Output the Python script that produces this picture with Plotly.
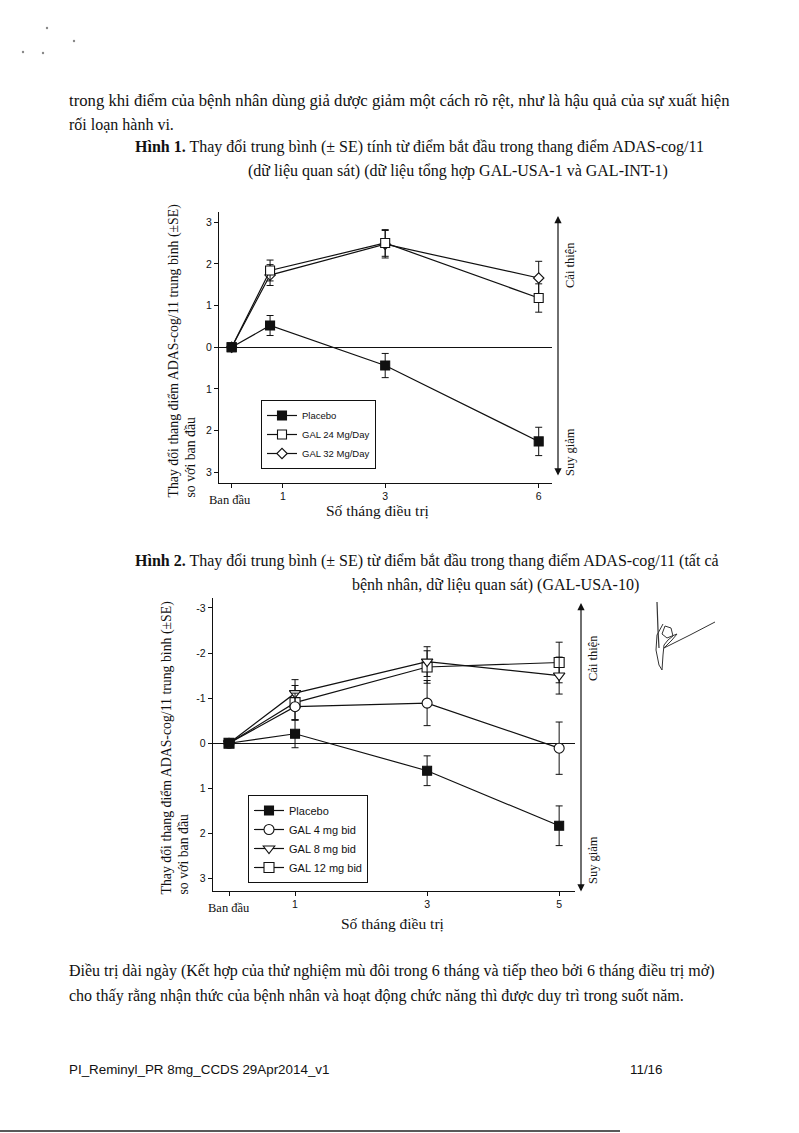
import plotly.graph_objects as go

W, H = 799, 1133

# ---------------- Data: Figure 1 ----------------
c1_months = [0, 0.75, 3, 6]
c1_placebo = [0, 0.52, -0.44, -2.26]
c1_placebo_se = [0, 0.24, 0.29, 0.34]
c1_gal24 = [0, 1.84, 2.50, 1.18]
c1_gal24_se = [0, 0.25, 0.32, 0.34]
c1_gal32 = [0, 1.73, 2.47, 1.66]
c1_gal32_se = [0, 0.25, 0.33, 0.40]
c1_xtickvals = [0, 1, 3, 6]
c1_xticktext = ["", "1", "3", "6"]
c1_ytickvals = [-3, -2, -1, 0, 1, 2, 3]
c1_yticktext = ["3", "2", "1", "0", "1", "2", "3"]
c1_names = ["Placebo", "GAL 24 Mg/Day", "GAL 32 Mg/Day"]

# ---------------- Data: Figure 2 ----------------
c2_months = [0, 1, 3, 5]
c2_placebo = [0, -0.21, 0.61, 1.83]
c2_placebo_se = [0, 0.31, 0.33, 0.44]
c2_gal4 = [0, -0.81, -0.89, 0.11]
c2_gal4_se = [0, 0.30, 0.50, 0.58]
c2_gal8 = [0, -1.11, -1.81, -1.50]
c2_gal8_se = [0, 0.30, 0.33, 0.41]
c2_gal12 = [0, -0.90, -1.69, -1.79]
c2_gal12_se = [0, 0.38, 0.36, 0.45]
c2_xtickvals = [0, 1, 3, 5]
c2_xticktext = ["", "1", "3", "5"]
c2_ytickvals = [-3, -2, -1, 0, 1, 2, 3]
c2_yticktext = ["-3", "-2", "-1", "0", "1", "2", "3"]
c2_names = ["Placebo", "GAL 4 mg bid", "GAL 8 mg bid", "GAL 12 mg bid"]

SERIF = "Liberation Serif, Times New Roman, serif"
SANS = "Liberation Sans, Arial, sans-serif"
NARROW = "Liberation Sans Narrow, Arial Narrow, Liberation Sans, Arial, sans-serif"
INK = "#111111"


def P(x, y):
    return x / W, 1 - y / H


fig = go.Figure()


def add_series(x, y, se, name, symbol, size, fill, xa, ya, legend):
    fig.add_trace(go.Scatter(
        x=x, y=y, name=name, mode="lines+markers",
        xaxis=xa, yaxis=ya, legend=legend,
        line=dict(color=INK, width=1.2),
        marker=dict(symbol=symbol, size=size, color=fill,
                    line=dict(color=INK, width=1.1)),
        error_y=dict(type="data", array=se, visible=True,
                     color=INK, thickness=1, width=3.5),
        showlegend=True,
    ))


# Figure 1 traces
add_series(c1_months, c1_gal32, c1_gal32_se, c1_names[2], "diamond", 8, "white", "x", "y", "legend")
add_series(c1_months, c1_gal24, c1_gal24_se, c1_names[1], "square", 9, "white", "x", "y", "legend")
add_series(c1_months, c1_placebo, c1_placebo_se, c1_names[0], "square", 9, INK, "x", "y", "legend")

# Figure 2 traces
add_series(c2_months, c2_gal12, c2_gal12_se, c2_names[3], "square", 10, "white", "x2", "y2", "legend2")
add_series(c2_months, c2_gal8, c2_gal8_se, c2_names[2], "triangle-down", 10, "white", "x2", "y2", "legend2")
add_series(c2_months, c2_gal4, c2_gal4_se, c2_names[1], "circle", 10, "white", "x2", "y2", "legend2")
add_series(c2_months, c2_placebo, c2_placebo_se, c2_names[0], "square", 9, INK, "x2", "y2", "legend2")

axis_common = dict(
    showline=True, linecolor=INK, linewidth=1, mirror=False,
    ticks="outside", ticklen=4, tickwidth=1, tickcolor=INK,
    showgrid=False, tickfont=dict(family=SANS, size=10.5, color=INK),
    fixedrange=True,
)

fig.update_layout(
    width=W, height=H,
    margin=dict(l=0, r=0, t=0, b=0),
    paper_bgcolor="white", plot_bgcolor="white",
    xaxis=dict(domain=[219 / W, 552 / W], range=[-0.248, 6.26], anchor="y",
               tickvals=c1_xtickvals, ticktext=c1_xticktext, zeroline=False,
               **axis_common),
    yaxis=dict(domain=[1 - 482.7 / H, 1 - 211.7 / H], range=[-3.25, 3.25], anchor="x",
               tickvals=c1_ytickvals, ticktext=c1_yticktext,
               zeroline=True, zerolinecolor=INK, zerolinewidth=1, **axis_common),
    xaxis2=dict(domain=[212.7 / W, 575 / W], range=[-0.247, 5.24], anchor="y2",
                tickvals=c2_xtickvals, ticktext=c2_xticktext, zeroline=False,
                **axis_common),
    yaxis2=dict(domain=[1 - 890.7 / H, 1 - 598 / H], range=[3.27, -3.22], anchor="x2",
                tickvals=c2_ytickvals, ticktext=c2_yticktext,
                zeroline=True, zerolinecolor=INK, zerolinewidth=1, **axis_common),
    legend=dict(x=261 / W, y=1 - 400 / H, xanchor="left", yanchor="top",
                bordercolor=INK, borderwidth=1, bgcolor="white",
                font=dict(family=NARROW, size=9.5, color=INK),
                traceorder="reversed", itemwidth=30, tracegroupgap=0),
    legend2=dict(x=248 / W, y=1 - 795 / H, xanchor="left", yanchor="top",
                 bordercolor=INK, borderwidth=1, bgcolor="white",
                 font=dict(family=SANS, size=11, color=INK),
                 traceorder="reversed", itemwidth=30, tracegroupgap=0),
    showlegend=True,
)

ann = []


def text(x, y, s, size=16, family=SERIF, xanchor="left", yanchor="middle", **kw):
    px, py = P(x, y)
    ann.append(dict(x=px, y=py, xref="paper", yref="paper", text=s, showarrow=False,
                    xanchor=xanchor, yanchor=yanchor,
                    font=dict(family=family, size=size, color=INK), **kw))


# Body text
text(67, 101, "trong khi điểm của bệnh nhân dùng giả dược giảm một cách rõ rệt, như là hậu quả của sự xuất hiện", size=16.7)
text(67, 124, "rối loạn hành vi.")
text(133, 147, "<b>Hình 1.</b> Thay đổi trung bình (± SE) tính từ điểm bắt đầu trong thang điểm ADAS-cog/11")
text(246, 171, "(dữ liệu quan sát) (dữ liệu tổng hợp GAL-USA-1 và GAL-INT-1)")
text(133, 561, "<b>Hình 2.</b> Thay đổi trung bình (± SE) từ điểm bắt đầu trong thang điểm ADAS-cog/11 (tất cả")
text(350, 585, "bệnh nhân, dữ liệu quan sát) (GAL-USA-10)")
text(67, 971, "Điều trị dài ngày (Kết hợp của thử nghiệm mù đôi trong 6 tháng và tiếp theo bởi 6 tháng điều trị mở)")
text(67, 996, "cho thấy rằng nhận thức của bệnh nhân và hoạt động chức năng thì được duy trì trong suốt năm.")
text(67, 1069, "PI_Reminyl_PR 8mg_CCDS 29Apr2014_v1", size=13.4, family=SANS)
text(628, 1069, "11/16", size=13.4, family=SANS)

# Figure 1 labels
text(182, 500, "Thay đổi thang điểm ADAS-cog/11 trung bình (±SE)<br>so với ban đầu",
     size=13.8, xanchor="center", yanchor="bottom", textangle=-90, align="left")
text(230, 500, "Ban đầu", size=12.5, xanchor="center")
text(378, 510, "Số tháng điều trị", size=15.5, xanchor="center")
text(570, 265, "Cải thiện", size=12.5, xanchor="center", textangle=-90)
text(570, 452, "Suy giảm", size=12.5, xanchor="center", textangle=-90)

# Figure 2 labels
text(175, 897, "Thay đổi thang điểm ADAS-cog/11 trung bình (±SE)<br>so với ban đầu",
     size=13.8, xanchor="center", yanchor="bottom", textangle=-90, align="left")
text(229, 908, "Ban đầu", size=12.5, xanchor="center")
text(393, 923, "Số tháng điều trị", size=15.5, xanchor="center")
text(593, 658, "Cải thiện", size=12.5, xanchor="center", textangle=-90)
text(593, 860, "Suy giảm", size=12.5, xanchor="center", textangle=-90)

# Double-headed direction arrows
for (ax_x, top, bot) in [(558, 216, 477), (581, 603, 893)]:
    px, py = P(ax_x, top)
    ann.append(dict(x=px, y=py, xref="paper", yref="paper", text="", showarrow=True,
                    ax=0, ay=bot - top, arrowhead=2, arrowside="end+start",
                    arrowsize=1.2, arrowwidth=1.2, arrowcolor=INK, standoff=0, startstandoff=0))

fig.update_layout(annotations=ann)

# Scan details: signature stroke, specks and bottom edge line
def path_px(pts):
    s = ""
    for i, (x, y) in enumerate(pts):
        px, py = P(x, y)
        s += ("M" if i == 0 else "L") + f"{px:.5f},{py:.5f} "
    return s

shapes = [
    dict(type="path", xref="paper", yref="paper",
         path=path_px([(657, 602), (658, 630), (659, 648)]),
         line=dict(color="#333", width=1.2)),
    dict(type="path", xref="paper", yref="paper",
         path=path_px([(663, 624), (657, 635), (656, 650), (659, 665), (662, 670),
                       (663, 655), (664, 645), (668, 640), (673, 636), (671, 628),
                       (665, 626), (662, 634), (667, 638), (677, 634), (672, 640),
                       (664, 648), (690, 635), (715, 622)]),
         line=dict(color="#333", width=1)),
    dict(type="line", xref="paper", yref="paper",
         x0=0, x1=620 / W, y0=1 - 1131 / H, y1=1 - 1131 / H,
         line=dict(color="#222", width=1.5)),
]
for (sx, sy) in [(47, 28), (23, 52), (43, 53), (74, 41)]:
    x0, y0 = P(sx - 1.2, sy - 1.2)
    x1, y1 = P(sx + 1.2, sy + 1.2)
    shapes.append(dict(type="circle", xref="paper", yref="paper",
                       x0=x0, x1=x1, y0=y1, y1=y0,
                       fillcolor="#888", line=dict(width=0)))
fig.update_layout(shapes=shapes)

fig.write_html(
    "out.html",
    config={"displayModeBar": False},
    post_script="document.body.style.margin='0';document.body.style.padding='0';"
                "document.documentElement.style.overflow='hidden';",
)
